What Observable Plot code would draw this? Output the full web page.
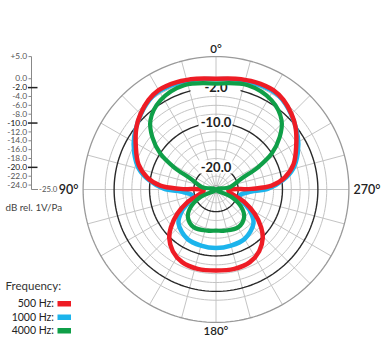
<!DOCTYPE html>
<html><head><meta charset="utf-8">
<script src="https://cdn.jsdelivr.net/npm/d3@7"></script>
<script src="https://cdn.jsdelivr.net/npm/@observablehq/plot@0.6"></script>
<style>html,body{margin:0;padding:0;background:#fff;}</style>
</head><body><div id="chart"></div>
<script>
// ---- data (angle in degrees, 0 = top, 90 = left; response in dB) ----
const angles500 = [0,10,20,30,37,45,52,62,72,80,86,89,94.5,114,122,130,136,145,155,167,180,193,205,215,224,230,238,246,265.5,271,274,280,288,298,308,315,323,330,340,350,360];
const db500 = [0,0.4,0.8,0.9,0.3,-0.9,-2.2,-4.5,-6.6,-9.2,-12.4,-17,-22.2,-17.9,-14.7,-11.7,-9.8,-8.0,-6.9,-6.6,-6.7,-6.6,-6.9,-8.0,-9.8,-11.7,-14.7,-17.9,-22.2,-17,-12.4,-9.2,-6.6,-4.5,-2.2,-0.9,0.3,0.9,0.8,0.4,0];
const angles1000 = [0,15,32,42,57,66,75,82,89,95,105,122,132,150,165,180,195,210,228,238,255,265,271,278,285,294,303,318,328,345,360];
const db1000 = [-0.1,0.4,0.55,-0.55,-3.0,-4.8,-7.0,-9.7,-13.2,-17.7,-19.5,-16,-13.6,-12.1,-11.9,-11.8,-11.9,-12.1,-13.6,-16,-19.5,-17.7,-13.2,-9.7,-7.0,-4.8,-3.0,-0.55,0.55,0.4,-0.1];
const angles4000 = [0,17,32,43.5,50.6,57.3,62,67,80.5,90,116,125,134.5,149.5,168,180,192,210.5,225.5,235,244,270,279.5,293,298,302.7,309.4,316.5,328,343,360];
const db4000 = [-1.1,-0.4,-1.3,-3.5,-6.4,-10.1,-14.2,-18.8,-21.8,-25,-21.1,-18,-16.1,-15.1,-15.5,-15.7,-15.5,-15.1,-16.1,-18,-21.1,-25,-21.8,-18.8,-14.2,-10.1,-6.4,-3.5,-1.3,-0.4,-1.1];

const freqLabels = ["500 Hz:", "1000 Hz:", "4000 Hz:"];
const freqColors = ["#ee1c25", "#1cb4ec", "#0f9f48"];
const ringDb = [5,0,-2,-4,-6,-8,-10,-12,-14,-16,-18,-20,-22];
const majorRings = [-2,-10,-20];
const ringLabels = ["-2.0","-10.0","-20.0"];
const scaleTicks = [5,0,-2,-4,-6,-8,-10,-12,-14,-16,-18,-20,-22,-24];
const angleLabels = ["0°","90°","180°","270°"];
const spokeAngles = d3.range(0, 360, 15);

// ---- layout ----
const W = 385, H = 362, CX = 215.5, CY = 189, K = 4.43;
const MIN_DB = -25, MAX_DB = 5;
const R = MAX_DB - MIN_DB;
const rad = db => db - MIN_DB;
const px = p => (p - CX) / K;
const py = p => (CY - p) / K;
const toXY = (a, db) => { const t = a * Math.PI / 180, r = rad(db); return {x: -r * Math.sin(t), y: r * Math.cos(t)}; };

const mkSeries = (angles, dbs) => angles.map((a, i) => toXY(a, dbs[i]));
const s500 = mkSeries(angles500, db500);
const s1000 = mkSeries(angles1000, db1000);
const s4000 = mkSeries(angles4000, db4000);

const ringPts = [];
for (const db of ringDb) for (let a = 0; a <= 360; a += 2) ringPts.push({db, ...toXY(a, db)});
const gridRingPts = ringPts.filter(d => !majorRings.includes(d.db) && d.db !== MAX_DB);
const outerPts = ringPts.filter(d => d.db === MAX_DB);
const majorPts = ringPts.filter(d => majorRings.includes(d.db));

const fmt = d => (d > 0 ? "+" : "") + d.toFixed(1);
const FONT = "Lato, 'Open Sans', sans-serif";

const chart = Plot.plot({
  width: W, height: H, margin: 0,
  style: {fontFamily: FONT, background: "white", overflow: "visible"},
  x: {domain: [px(0), px(W)], range: [0, W], axis: null},
  y: {domain: [py(H), py(0)], range: [H, 0], axis: null},
  marks: [
    // grid
    Plot.line(gridRingPts, {x: "x", y: "y", z: "db", stroke: "#c4c4c4", strokeWidth: 1}),
    Plot.link(spokeAngles, {x1: 0, y1: 0, x2: a => -R * Math.sin(a * Math.PI / 180), y2: a => R * Math.cos(a * Math.PI / 180), stroke: "#c4c4c4", strokeWidth: 1}),
    Plot.line(outerPts, {x: "x", y: "y", stroke: "#9a9a9a", strokeWidth: 1.3}),
    Plot.line(majorPts, {x: "x", y: "y", z: "db", stroke: "#2a2a2a", strokeWidth: 1.4}),
    // ring label backgrounds + labels
    Plot.rect(majorRings, {x1: (d, i) => i === 0 ? -25 / K : -17 / K, x2: (d, i) => i === 0 ? 25 / K : 17 / K, y1: d => rad(d) - 1.5, y2: d => rad(d) + 1.5, fill: "white"}),
    Plot.text(majorRings, {x: 0, y: d => rad(d), text: (d, i) => ringLabels[i], fontSize: 13, fontWeight: "bold", fill: "#222"}),
    // center
    Plot.dot([0], {x: 0, y: 0, r: 4, fill: "#d0d0d0", stroke: "#999", strokeWidth: 0.8}),
    Plot.dot([0], {x: 0, y: 0, r: 1.6, fill: "#222"}),
    // curves
    Plot.line(s1000, {x: "x", y: "y", stroke: freqColors[1], strokeWidth: 4.5, curve: "catmull-rom", strokeLinejoin: "round"}),
    Plot.line(s500, {x: "x", y: "y", stroke: freqColors[0], strokeWidth: 4.5, curve: "catmull-rom", strokeLinejoin: "round"}),
    Plot.line(s4000, {x: "x", y: "y", stroke: freqColors[2], strokeWidth: 4.2, curve: "catmull-rom", strokeLinejoin: "round"}),
    // angle labels
    Plot.text([angleLabels[0]], {x: 0, y: py(48.5), text: d => d, fontSize: 11.5, fontWeight: 600, fill: "#222"}),
    Plot.text([angleLabels[2]], {x: 0, y: py(331), text: d => d, fontSize: 11.5, fontWeight: 600, fill: "#222"}),
    Plot.text([angleLabels[1]], {x: px(78), y: py(189.5), text: d => d, textAnchor: "end", fontSize: 12.5, fontWeight: 600, fill: "#222"}),
    Plot.text([angleLabels[3]], {x: px(353), y: py(189.5), text: d => d, textAnchor: "start", fontSize: 12.5, fontWeight: 600, fill: "#222"}),
    // left dB scale
    Plot.link([0], {x1: px(31), x2: px(31), y1: rad(MIN_DB), y2: rad(MAX_DB), stroke: "#888", strokeWidth: 1}),
    Plot.link([0], {x1: px(31), x2: px(37.5), y1: rad(MIN_DB), y2: rad(MIN_DB), stroke: "#888", strokeWidth: 1}),
    Plot.link(scaleTicks.filter(d => !majorRings.includes(d)), {x1: px(28), x2: px(31), y1: d => rad(d), y2: d => rad(d), stroke: "#888", strokeWidth: 1}),
    Plot.link(majorRings, {x1: px(27.5), x2: px(37), y1: d => rad(d), y2: d => rad(d), stroke: "#222", strokeWidth: 1.5}),
    Plot.text(scaleTicks, {x: px(26.5), y: d => rad(d), text: fmt, textAnchor: "end", fontSize: 8.4, fontWeight: d => majorRings.includes(d) ? "bold" : "normal", fill: d => majorRings.includes(d) ? "#111" : "#555"}),
    Plot.text([MIN_DB], {x: px(38.5), y: d => rad(d), text: fmt, textAnchor: "start", fontSize: 7.8, fill: "#555"}),
    Plot.text(["dB rel. 1V/Pa"], {x: px(5), y: py(207), text: d => d, textAnchor: "start", fontSize: 9.8, fill: "#444"}),
    // legend
    Plot.text(["Frequency:"], {x: px(5), y: py(286), text: d => d, textAnchor: "start", fontSize: 11.5, fill: "#333"}),
    Plot.text(freqLabels, {x: px(53.5), y: (d, i) => py(303.5 + i * 13.5), text: d => d, textAnchor: "end", fontSize: 10.5, fill: "#222"}),
    Plot.rect(freqLabels, {x1: px(57.5), x2: px(71), y1: (d, i) => py(301 + i * 13.5), y2: (d, i) => py(306.5 + i * 13.5), fill: (d, i) => freqColors[i]})
  ]
});
document.getElementById("chart").appendChild(chart);
</script>
</body></html>
